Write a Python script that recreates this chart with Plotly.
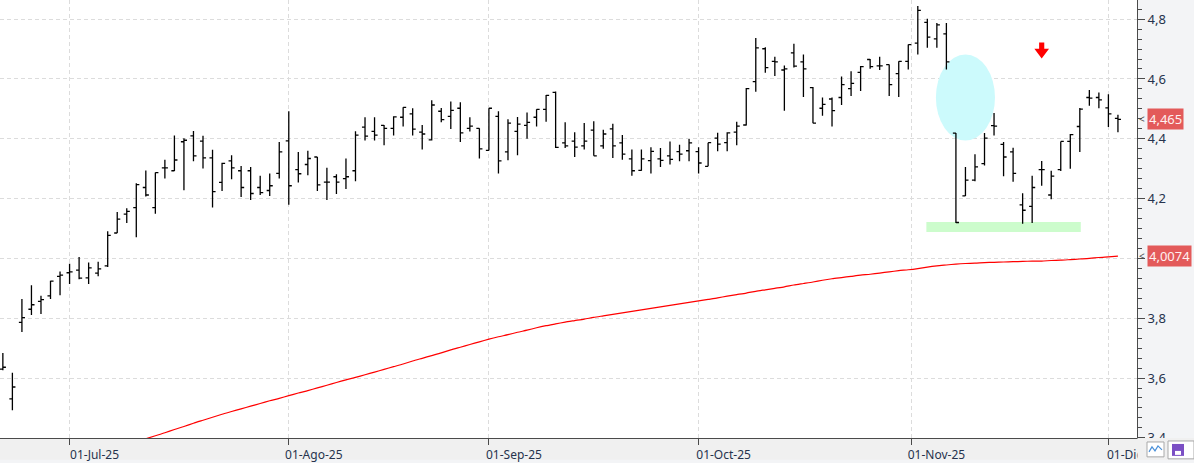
import pandas as pd
import plotly.graph_objects as go

# ---------------- data ----------------
dates = pd.bdate_range("2025-06-20", "2025-12-02")  # trading days shown

open_ = [3.630, 3.530, 3.786, 3.830, 3.856, 3.875, 3.940, 3.952, 3.961, 3.935,
         3.951, 3.975, 4.085, 4.148, 4.170, 4.237, 4.170, 4.303, 4.293, 4.390,
         4.410, 4.392, 4.336, 4.254, 4.326, 4.293, 4.293, 4.237, 4.227, 4.284,
         4.393, 4.297, 4.314, 4.339, 4.255, 4.273, 4.267, 4.293, 4.439, 4.425,
         4.445, 4.435, 4.472, 4.483, 4.422, 4.396, 4.492, 4.475, 4.502, 4.435,
         4.435, 4.361, 4.475, 4.356, 4.425, 4.445, 4.472, 4.498, 4.555, 4.386,
         4.392, 4.376, 4.429, 4.376, 4.433, 4.386, 4.333, 4.294, 4.327, 4.333,
         4.343, 4.357, 4.360, 4.357, 4.308, 4.402, 4.387, 4.422, 4.446, 4.591,
         4.701, 4.659, 4.630, 4.687, 4.657, 4.571, 4.502, 4.533, 4.538, 4.568,
         4.622, 4.665, 4.644, 4.648, 4.618, 4.659, 4.720, 4.789, 4.734, 4.751,
         4.419, 4.209, 4.262, 4.317, 4.444, 4.381, 4.356, 4.179, 4.174, 4.297,
         4.212, 4.297, 4.391, 4.441, 4.538, 4.538, 4.503, 4.468]
high = [3.684, 3.618, 3.864, 3.910, 3.875, 3.925, 3.956, 3.982, 4.005, 3.986,
        3.989, 4.091, 4.155, 4.168, 4.251, 4.294, 4.287, 4.330, 4.411, 4.402,
        4.426, 4.410, 4.363, 4.320, 4.345, 4.309, 4.306, 4.276, 4.284, 4.389,
        4.492, 4.356, 4.360, 4.339, 4.303, 4.281, 4.334, 4.425, 4.472, 4.472,
        4.446, 4.475, 4.505, 4.502, 4.446, 4.529, 4.503, 4.525, 4.522, 4.472,
        4.435, 4.502, 4.492, 4.465, 4.473, 4.488, 4.499, 4.546, 4.558, 4.455,
        4.422, 4.453, 4.459, 4.430, 4.450, 4.413, 4.364, 4.364, 4.372, 4.369,
        4.391, 4.380, 4.399, 4.372, 4.387, 4.420, 4.422, 4.457, 4.570, 4.737,
        4.706, 4.674, 4.645, 4.718, 4.682, 4.573, 4.538, 4.538, 4.608, 4.626,
        4.643, 4.667, 4.674, 4.648, 4.659, 4.715, 4.844, 4.801, 4.787, 4.787,
        4.419, 4.306, 4.348, 4.419, 4.486, 4.389, 4.370, 4.218, 4.276, 4.326,
        4.293, 4.391, 4.416, 4.503, 4.563, 4.555, 4.549, 4.480]
low = [3.626, 3.492, 3.754, 3.811, 3.814, 3.864, 3.877, 3.914, 3.930, 3.914,
       3.940, 3.971, 4.085, 4.118, 4.071, 4.207, 4.149, 4.267, 4.292, 4.228,
       4.325, 4.301, 4.170, 4.225, 4.265, 4.205, 4.195, 4.212, 4.209, 4.267,
       4.179, 4.254, 4.278, 4.225, 4.195, 4.215, 4.232, 4.258, 4.394, 4.394,
       4.378, 4.411, 4.441, 4.411, 4.364, 4.394, 4.455, 4.433, 4.389, 4.424,
       4.334, 4.361, 4.284, 4.328, 4.345, 4.400, 4.441, 4.457, 4.369, 4.369,
       4.339, 4.364, 4.343, 4.367, 4.336, 4.330, 4.276, 4.293, 4.284, 4.306,
       4.314, 4.325, 4.325, 4.284, 4.308, 4.358, 4.358, 4.378, 4.444, 4.557,
       4.621, 4.610, 4.494, 4.638, 4.540, 4.452, 4.477, 4.441, 4.513, 4.543,
       4.560, 4.634, 4.630, 4.543, 4.540, 4.632, 4.682, 4.704, 4.704, 4.632,
       4.118, 4.209, 4.258, 4.311, 4.411, 4.275, 4.256, 4.116, 4.118, 4.243,
       4.198, 4.292, 4.300, 4.356, 4.510, 4.502, 4.439, 4.422]
close = [3.636, 3.570, 3.802, 3.845, 3.862, 3.924, 3.944, 3.955, 3.934, 3.968,
         3.965, 4.077, 4.131, 4.157, 4.247, 4.212, 4.287, 4.303, 4.329, 4.395,
         4.343, 4.336, 4.223, 4.318, 4.303, 4.237, 4.217, 4.220, 4.243, 4.356,
         4.243, 4.283, 4.334, 4.246, 4.255, 4.255, 4.273, 4.412, 4.409, 4.412,
         4.435, 4.473, 4.505, 4.432, 4.416, 4.513, 4.464, 4.495, 4.420, 4.442,
         4.366, 4.502, 4.326, 4.452, 4.449, 4.455, 4.498, 4.545, 4.371, 4.376,
         4.372, 4.392, 4.343, 4.416, 4.376, 4.349, 4.293, 4.333, 4.358, 4.328,
         4.331, 4.349, 4.386, 4.319, 4.387, 4.382, 4.420, 4.442, 4.568, 4.704,
         4.638, 4.657, 4.634, 4.643, 4.634, 4.452, 4.515, 4.494, 4.581, 4.585,
         4.641, 4.641, 4.644, 4.581, 4.659, 4.715, 4.829, 4.740, 4.781, 4.657,
         4.120, 4.262, 4.306, 4.402, 4.442, 4.339, 4.284, 4.161, 4.237, 4.297,
         4.275, 4.391, 4.414, 4.499, 4.536, 4.530, 4.483, 4.465]

# moving average (visible from bar 15 on)
ma_start = 15
ma = [3.397, 3.407, 3.417, 3.428, 3.438, 3.449, 3.459, 3.469, 3.479, 3.488,
      3.497, 3.506, 3.515, 3.524, 3.532, 3.541, 3.550, 3.558, 3.567, 3.576,
      3.585, 3.594, 3.602, 3.611, 3.620, 3.629, 3.638, 3.647, 3.657, 3.666,
      3.675, 3.684, 3.694, 3.703, 3.712, 3.721, 3.730, 3.738, 3.745, 3.753,
      3.760, 3.768, 3.775, 3.781, 3.787, 3.792, 3.797, 3.803, 3.808, 3.813,
      3.818, 3.823, 3.828, 3.833, 3.838, 3.843, 3.848, 3.853, 3.858, 3.863,
      3.868, 3.874, 3.879, 3.884, 3.890, 3.895, 3.900, 3.905, 3.911, 3.916,
      3.921, 3.927, 3.932, 3.936, 3.940, 3.944, 3.947, 3.951, 3.955, 3.959,
      3.962, 3.966, 3.971, 3.975, 3.978, 3.981, 3.983, 3.984, 3.986, 3.987,
      3.988, 3.989, 3.990, 3.991, 3.991, 3.993, 3.994, 3.996, 3.998, 4.000,
      4.003, 4.005, 4.0074]

y_ticks = [3.4, 3.6, 3.8, 4.0, 4.2, 4.4, 4.6, 4.8]
y_tick_text = ["3,4", "3,6", "3,8", "", "4,2", "4,4", "4,6", "4,8"]  # 4,0 hidden behind the MA tag

tick_dates = ["2025-07-01", "2025-08-01", "2025-09-01", "2025-10-01", "2025-11-01", "2025-12-01"]
tick_text = ["01-Jul-25", "01-Ago-25", "01-Sep-25", "01-Oct-25", "01-Nov-25", "01-Dic-25"]

# ---------------- layout helpers ----------------
W, H = 1194, 463
PL, PR, PT, PB = 0, 57, 0, 22
PW, PH = W - PL - PR, H - PT - PB


def px(xp):
    return (xp - PL) / PW


def py(yp):
    return (PT + PH - yp) / PH


idx = list(range(len(dates)))
date_list = list(dates)


def date_pos(d):
    d = pd.Timestamp(d)
    prev = [i for i, t in enumerate(date_list) if t <= d]
    i = prev[-1]
    if date_list[i] == d:
        return i
    return i + (d - date_list[i]).days / 3.0


tick_pos = [date_pos(d) for d in tick_dates]

fig = go.Figure()
fig.add_trace(go.Ohlc(
    x=idx, open=open_, high=high, low=low, close=close,
    increasing=dict(line=dict(color="black", width=1.3)),
    decreasing=dict(line=dict(color="black", width=1.3)),
    tickwidth=0.32, hoverinfo="skip", showlegend=False,
))
fig.add_trace(go.Scatter(
    x=idx[ma_start:], y=ma, mode="lines", line_shape="spline",
    line=dict(color="#ff0000", width=1.2, smoothing=0.6), hoverinfo="skip", showlegend=False,
))

font_fam = "Noto Sans, Open Sans, sans-serif"
axis_txt = "#26334d"

fig.update_layout(
    width=W, height=H,
    margin=dict(l=PL, r=PR, t=PT, b=PB),
    paper_bgcolor="#f3f4f6", plot_bgcolor="white",
    separators=",.",
    showlegend=False,
    font=dict(family=font_fam, color=axis_txt),
    xaxis=dict(
        range=[-0.3, 119.0], type="linear",
        tickmode="array", tickvals=tick_pos, ticktext=tick_text,
        showgrid=True, gridcolor="#dcdcdc", griddash="4px,3px", gridwidth=1,
        zeroline=False, showline=True, linecolor="#4a4a4a", linewidth=1,
        ticks="outside", ticklen=6, tickcolor="#4a4a4a",
        tickfont=dict(size=12, color=axis_txt), ticklabelshift=25,
        ticklabelstandoff=0,
        rangeslider=dict(visible=False), fixedrange=True,
    ),
    yaxis=dict(
        range=[3.3995, 4.864], side="right",
        tickmode="array", tickvals=y_ticks, ticktext=y_tick_text,
        showgrid=True, gridcolor="#dcdcdc", griddash="4px,3px", gridwidth=1,
        zeroline=False, showline=True, linecolor="#4a4a4a", linewidth=1,
        ticks="outside", ticklen=7, tickcolor="#4a4a4a",
        minor=dict(ticks="outside", ticklen=4, tickcolor="#4a4a4a", tickmode="linear",
                   tick0=3.4, dtick=0.2 / 6, showgrid=False),
        tickfont=dict(size=13, color=axis_txt),
        fixedrange=True,
    ),
)

shapes = []
# bottom strip (below everything)
shapes.append(dict(type="rect", xref="paper", yref="paper", x0=px(0), x1=px(W), y0=py(H), y1=py(PT + PH),
                   fillcolor="#f0f0f0", line=dict(width=0), layer="below"))
# highlight ellipse and support band
shapes.append(dict(type="circle", xref="x", yref="y", x0=97.9, x1=104.1, y0=4.394, y1=4.682,
                   fillcolor="#ccfafc", line=dict(width=0), layer="between"))
shapes.append(dict(type="rect", xref="x", yref="y", x0=96.9, x1=113.1, y0=4.088, y1=4.1215,
                   fillcolor="#ccfccc", line=dict(width=0), layer="between"))
# red down arrow
shapes.append(dict(type="path", xref="x", yref="y",
                   path="M 108.73 4.722 L 109.27 4.722 L 109.27 4.701 L 109.77 4.701 L 109.0 4.668 "
                        "L 108.23 4.701 L 108.73 4.701 Z",
                   fillcolor="#ff0000", line=dict(width=0), layer="above"))
# bottom-right corner panel (covers overflow)
shapes.append(dict(type="rect", xref="paper", yref="paper", x0=px(PW + 0.5), x1=px(W), y0=py(H), y1=py(PT + PH),
                   fillcolor="#f0f0f0", line=dict(width=0), layer="above"))
# small toolbar icons
shapes.append(dict(type="rect", xref="paper", yref="paper", x0=px(1147), x1=px(1164), y0=py(460), y1=py(445),
                   fillcolor="white", line=dict(color="#a9a9a9", width=1), layer="above"))
shapes.append(dict(type="path", xref="paper", yref="paper",
                   path=f"M {px(1149)} {py(455)} L {px(1152)} {py(450)} L {px(1155)} {py(454)} L {px(1158)} {py(449)} L {px(1162)} {py(453)}",
                   line=dict(color="#4a90d9", width=1.2), layer="above"))
shapes.append(dict(type="rect", xref="paper", yref="paper", x0=px(1168), x1=px(1194), y0=py(462), y1=py(444),
                   fillcolor="white", line=dict(color="#a9a9a9", width=1), layer="above"))
shapes.append(dict(type="rect", xref="paper", yref="paper", x0=px(1172), x1=px(1184), y0=py(459), y1=py(447),
                   fillcolor="#7b4fc4", line=dict(width=0), layer="above"))
shapes.append(dict(type="rect", xref="paper", yref="paper", x0=px(1175), x1=px(1181), y0=py(458), y1=py(454),
                   fillcolor="white", line=dict(width=0), layer="above"))
fig.update_layout(shapes=shapes)

annotations = []
for val, txt in [(close[-1], "4,465"), (ma[-1], "4,0074")]:
    annotations.append(dict(xref="paper", yref="y", x=px(1147), y=val, xanchor="left", yanchor="middle",
                            text=txt, showarrow=False, bgcolor="#e35a5a", borderpad=1,
                            font=dict(size=13, color="#fff0f0", family=font_fam)))
    annotations.append(dict(xref="paper", yref="y", x=px(1142), y=val, xanchor="center", yanchor="middle",
                            text="<", showarrow=False, font=dict(size=10, color="#555555", family=font_fam)))
fig.update_layout(annotations=annotations)

fig.write_html("out.html", config=dict(displayModeBar=False))
